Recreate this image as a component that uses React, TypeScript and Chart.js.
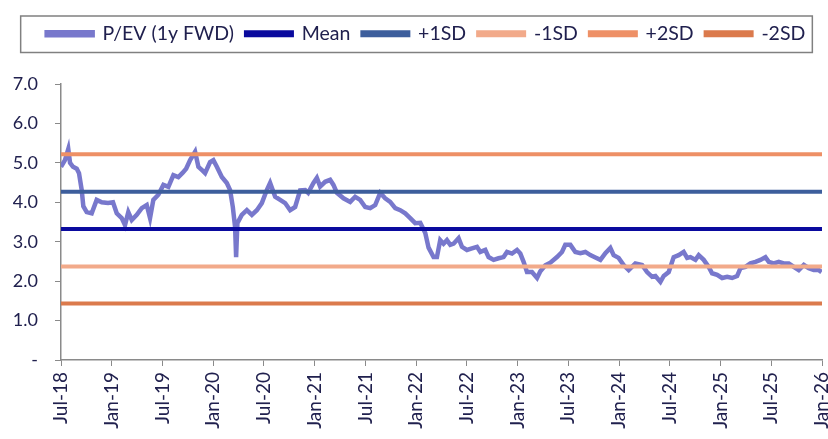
import React, { useEffect, useRef } from "react";
import { Chart, registerables } from "chart.js";
Chart.register(...registerables);

// months since Jul-2018
const months = [0, 0.47, 0.86, 1.07, 1.42, 1.86, 2.13, 2.45, 2.64, 3.04, 3.63, 4.22, 4.82, 5.56, 6.15, 6.59, 7.18, 7.57, 7.96, 8.37, 8.96, 9.55, 10.14, 10.53, 10.92, 11.51, 12.11, 12.7, 13.29, 13.88, 14.4, 14.8, 15.27, 15.86, 16.25, 16.65, 17.04, 17.63, 18.02, 18.43, 19.02, 19.61, 20.0, 20.32, 20.59, 20.71, 20.86, 21.38, 21.98, 22.57, 23.16, 23.75, 24.34, 24.73, 25.33, 25.92, 26.51, 27.1, 27.69, 28.28, 28.88, 29.23, 29.86, 30.26, 30.65, 31.24, 31.83, 32.22, 32.63, 33.41, 34.2, 34.79, 35.38, 35.98, 36.57, 37.16, 37.75, 38.34, 38.93, 39.53, 40.12, 40.71, 41.3, 41.89, 42.49, 43.08, 43.47, 44.06, 44.46, 44.85, 45.24, 45.64, 46.04, 46.43, 47.02, 47.42, 48.01, 48.6, 49.2, 49.59, 50.18, 50.57, 51.16, 51.75, 52.34, 52.75, 53.34, 53.93, 54.32, 54.71, 55.11, 55.7, 56.3, 56.69, 57.28, 57.87, 58.66, 59.25, 59.64, 60.24, 60.83, 61.42, 62.01, 62.6, 63.2, 63.79, 64.38, 64.97, 65.36, 65.95, 66.54, 67.14, 67.93, 68.72, 69.31, 69.91, 70.3, 70.89, 71.28, 71.87, 72.46, 73.05, 73.64, 74.05, 74.44, 75.03, 75.42, 76.01, 76.6, 77.0, 77.6, 78.19, 78.78, 79.37, 79.96, 80.36, 80.95, 81.54, 82.13, 82.72, 83.31, 83.7, 84.29, 84.89, 85.48, 86.07, 86.66, 87.25, 87.85, 88.44, 89.03, 89.62, 89.95];
const pev = [4.9, 5.07, 5.35, 5.0, 4.9, 4.85, 4.74, 4.31, 3.9, 3.75, 3.72, 4.06, 4.0, 3.98, 4.0, 3.72, 3.6, 3.42, 3.75, 3.55, 3.68, 3.85, 3.93, 3.6, 4.06, 4.19, 4.44, 4.39, 4.69, 4.64, 4.75, 4.85, 5.07, 5.28, 4.9, 4.82, 4.74, 5.02, 5.07, 4.9, 4.64, 4.49, 4.31, 3.88, 3.37, 2.61, 3.47, 3.68, 3.8, 3.68, 3.8, 3.98, 4.31, 4.49, 4.14, 4.06, 3.98, 3.8, 3.88, 4.3, 4.31, 4.24, 4.49, 4.62, 4.4, 4.52, 4.57, 4.44, 4.24, 4.1, 4.01, 4.14, 4.06, 3.88, 3.85, 3.93, 4.24, 4.1, 4.01, 3.85, 3.8, 3.72, 3.6, 3.47, 3.48, 3.22, 2.85, 2.61, 2.61, 3.04, 2.95, 3.04, 2.92, 2.95, 3.09, 2.87, 2.79, 2.83, 2.87, 2.74, 2.79, 2.61, 2.54, 2.58, 2.61, 2.74, 2.7, 2.79, 2.7, 2.49, 2.23, 2.23, 2.08, 2.25, 2.4, 2.47, 2.61, 2.74, 2.92, 2.92, 2.74, 2.71, 2.74, 2.66, 2.6, 2.54, 2.71, 2.84, 2.66, 2.59, 2.41, 2.28, 2.45, 2.41, 2.23, 2.11, 2.13, 1.98, 2.13, 2.23, 2.61, 2.66, 2.74, 2.59, 2.61, 2.54, 2.66, 2.54, 2.36, 2.2, 2.16, 2.08, 2.11, 2.08, 2.13, 2.33, 2.36, 2.45, 2.49, 2.54, 2.61, 2.49, 2.45, 2.49, 2.45, 2.45, 2.36, 2.28, 2.41, 2.33, 2.28, 2.28, 2.23];

const bandNames = ["Mean", "+1SD", "-1SD", "+2SD", "-2SD"];
const bandValues = [3.32, 4.27, 2.37, 5.22, 1.43];
const bandColors = ["#0a0a9e", "#3d5e9c", "#f2aa8a", "#ee9066", "#db7a4c"];

const xTickLabels = ["Jul-18", "Jan-19", "Jul-19", "Jan-20", "Jul-20", "Jan-21", "Jul-21", "Jan-22", "Jul-22", "Jan-23", "Jul-23", "Jan-24", "Jul-24", "Jan-25", "Jul-25", "Jan-26"];
const xStart = 0;
const xEnd = 90;

const textColor = "#20204e";
const axisColor = "#8a8a8a";
const fontFamily = "Lato, 'Noto Sans', sans-serif";
const LEGEND_SHIFT = 15;

const legendTweaks = {
  id: "legendTweaks",
  beforeLayout(chart: any) {
    const lg = chart.legend;
    if (lg && !lg._patched) {
      lg._patched = true;
      const origFit = lg.fit.bind(lg);
      lg.fit = function () {
        origFit();
        this.height = 72;
      };
      const origDraw = lg.draw.bind(lg);
      lg.draw = function () {
        const ctx = chart.ctx;
        ctx.save();
        ctx.translate(LEGEND_SHIFT, 0);
        origDraw();
        ctx.restore();
      };
    }
  },
  afterDraw(chart: any) {
    const lg = chart.legend;
    if (!lg || !lg.legendHitBoxes || !lg.legendHitBoxes.length) return;
    let l = Infinity, r = -Infinity, t = Infinity, b = -Infinity;
    lg.legendHitBoxes.forEach((h: any) => {
      l = Math.min(l, h.left);
      r = Math.max(r, h.left + h.width);
      t = Math.min(t, h.top);
      b = Math.max(b, h.top + h.height);
    });
    l += LEGEND_SHIFT;
    r += LEGEND_SHIFT;
    const ctx = chart.ctx;
    ctx.save();
    ctx.strokeStyle = "#808080";
    ctx.lineWidth = 1.5;
    ctx.strokeRect(l - 26, t - 8, r - l + 33, b - t + 17);
    ctx.restore();
  },
};

export default function App() {
  const ref = useRef<HTMLCanvasElement | null>(null);
  useEffect(() => {
    if (!ref.current) return;
    const datasets: any[] = [
      {
        label: "P/EV (1y FWD)",
        data: months.map((m, i) => ({ x: m, y: pev[i] })),
        borderColor: "#7878cc",
        backgroundColor: "#7878cc",
        borderWidth: 4.5,
        pointRadius: 0,
        tension: 0,
        order: 10,
      },
      ...bandNames.map((n, i) => ({
        label: n,
        data: [
          { x: xStart, y: bandValues[i] },
          { x: xEnd, y: bandValues[i] },
        ],
        borderColor: bandColors[i],
        backgroundColor: bandColors[i],
        borderWidth: 4,
        pointRadius: 0,
        order: 1,
      })),
    ];
    const chart = new Chart(ref.current, {
      type: "line",
      data: { datasets },
      plugins: [legendTweaks],
      options: {
        animation: false,
        responsive: true,
        maintainAspectRatio: false,
        layout: { padding: { top: 12, left: 0, right: 6, bottom: 0 } },
        plugins: {
          tooltip: { enabled: false },
          legend: {
            position: "top",
            labels: {
              boxWidth: 46,
              boxHeight: 3,
              padding: 12,
              color: textColor,
              font: { family: fontFamily, size: 19.5 },
              sort: (a: any, b: any) => a.datasetIndex - b.datasetIndex,
            },
          },
        },
        scales: {
          x: {
            type: "linear",
            min: xStart,
            max: xEnd,
            grid: { display: true, drawOnChartArea: false, drawTicks: true, tickLength: 6, color: axisColor },
            border: { display: true, color: axisColor, width: 1.5 },
            ticks: {
              stepSize: 6,
              autoSkip: false,
              maxRotation: 90,
              minRotation: 90,
              color: textColor,
              padding: 6,
              font: { family: fontFamily, size: 19 },
              callback: (v: any) => {
                const idx = Math.round(Number(v) / 6);
                return xTickLabels[idx] ?? "";
              },
            },
            afterFit: (s: any) => {
              s.height = 79;
              s.paddingLeft = 0;
              s.paddingRight = 0;
            },
          },
          y: {
            min: 0,
            max: 7,
            grid: { display: true, drawOnChartArea: false, drawTicks: true, tickLength: 6, color: axisColor },
            border: { display: true, color: axisColor, width: 1.5 },
            ticks: {
              stepSize: 1,
              color: textColor,
              padding: 17,
              font: { family: fontFamily, size: 18 },
              callback: (v: any) => (Number(v) === 0 ? "-" : Number(v).toFixed(1)),
            },
            afterFit: (s: any) => {
              s.width = 61;
            },
          },
        },
      },
    });
    return () => chart.destroy();
  }, []);
  return (
    <div style={{ position: "fixed", left: 0, top: 0, width: 828, height: 439, background: "#fff" }}>
      <canvas ref={ref} />
    </div>
  );
}
